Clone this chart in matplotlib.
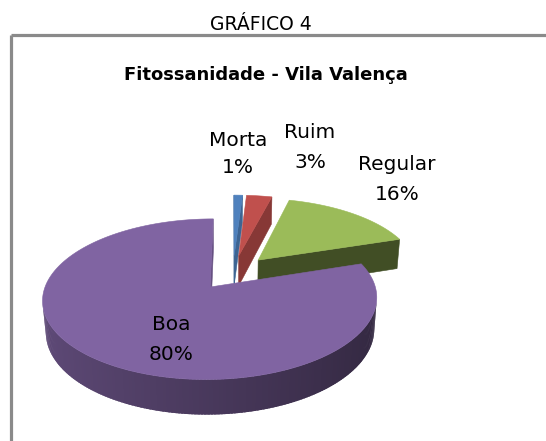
import numpy as np
import matplotlib.pyplot as plt
import matplotlib.colors as mcolors

labels = ['Morta', 'Ruim', 'Regular', 'Boa']
values = [1, 3, 16, 80]
colors = ['#4f81bd', '#c0504d', '#9bbb59', '#8064a2']

# camera / projection settings (pixel space of the figure)
CX, CY = 233, 272.5
F, D = 963, 6.0
TILT = np.radians(27.5)
EXPLODE = 0.235
HEIGHT = 0.22
S, C = np.sin(TILT), np.cos(TILT)
CAM = np.array([0.0, -D * C, D * S])


def project(u, v, h):
    yc = v * S + h * C
    zc = D + v * C - h * S
    return CX + F * u / zc, CY - F * yc / zc


def shade(color, f):
    r, g, b = mcolors.to_rgb(color)
    return (r * f, g * f, b * f)


def face_visible(normal, point):
    return np.dot(normal, CAM - np.array(point)) > 0


def draw_poly(ax, pts, color, lw=0.4):
    xs, ys = zip(*[project(*p) for p in pts])
    ax.fill(xs, ys, color=color, lw=lw, ec=color if lw else 'none')


fig = plt.figure(figsize=(5.46, 4.41), dpi=100)
ax = fig.add_axes([0, 0, 1, 1])
ax.set_xlim(0, 546)
ax.set_ylim(441, 0)
ax.axis('off')

total = sum(values)
starts = np.cumsum([0] + values[:-1]) / total * 360
ends = np.cumsum(values) / total * 360

# back slices first
order = sorted(range(len(values)),
               key=lambda i: -np.cos(np.radians((starts[i] + ends[i]) / 2)))
for i in order:
    t0, t1 = np.radians(starts[i]), np.radians(ends[i])
    tm = (t0 + t1) / 2
    eu, ev = EXPLODE * np.sin(tm), EXPLODE * np.cos(tm)
    th = np.linspace(t0, t1, max(int(np.degrees(t1 - t0)), 2) + 1)
    step = th[1] - th[0]
    col = colors[i]

    def arc(t, h):
        return (eu + np.sin(t), ev + np.cos(t), h)

    # outer side, small overlapping strips for a smooth gradient
    for a, b in zip(th[:-1], th[1:]):
        m = (a + b) / 2
        n = np.array([np.sin(m), np.cos(m), 0])
        if face_visible(n, arc(m, -HEIGHT / 2)):
            f = 0.57 - 0.17 * np.sin(m)
            b2 = min(b + step * 0.8, t1)
            draw_poly(ax, [arc(a, 0), arc(b2, 0), arc(b2, -HEIGHT), arc(a, -HEIGHT)],
                      shade(col, f), lw=0)

    # radial cut faces
    for t, n in [(t0, np.array([-np.cos(t0), np.sin(t0), 0])),
                 (t1, np.array([np.cos(t1), -np.sin(t1), 0]))]:
        mid = (eu + 0.5 * np.sin(t), ev + 0.5 * np.cos(t), -HEIGHT / 2)
        if face_visible(n, mid):
            f = 0.8 + 0.4 * n[1]
            draw_poly(ax, [(eu, ev, 0), arc(t, 0), arc(t, -HEIGHT), (eu, ev, -HEIGHT)],
                      shade(col, f))

    # top face
    draw_poly(ax, [(eu, ev, 0)] + [arc(t, 0) for t in th], col)

# slice labels: name baseline and percent baseline
label_pos = {'Morta': (238, 146, 173), 'Ruim': (310, 137.5, 167.5),
             'Regular': (397, 169.5, 200.5), 'Boa': (171, 329.5, 359.5)}
for lab, val in zip(labels, values):
    x, y1, y2 = label_pos[lab]
    ax.text(x, y1, lab, ha='center', va='baseline', fontsize=14.5, family='DejaVu Sans')
    ax.text(x, y2, '{}%'.format(val), ha='center', va='baseline', fontsize=14.5,
            family='DejaVu Sans')

# frame of the chart area
ax.plot([10.5, 10.5], [441, 34.5], color='#8a8a8a', lw=2.3, solid_capstyle='butt')
ax.plot([10.5, 546], [34.5, 34.5], color='#8a8a8a', lw=2.3, solid_capstyle='butt')

ax.text(261, 30, 'GRÁFICO 4', ha='center', va='baseline', fontsize=13.5, family='DejaVu Sans')
ax.text(266, 80, 'Fitossanidade - Vila Valença', ha='center', va='baseline',
        fontsize=13, fontweight='bold', family='DejaVu Sans')

fig.savefig('out.png', dpi=100)
